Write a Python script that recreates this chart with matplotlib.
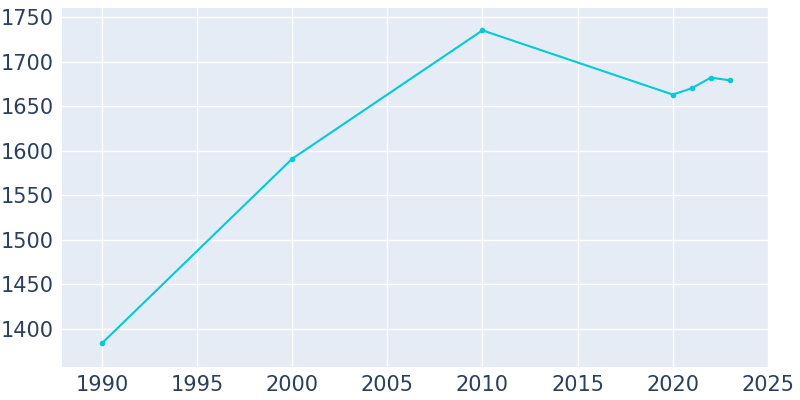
import matplotlib
matplotlib.use("Agg")
import matplotlib.pyplot as plt

years = [1990, 2000, 2010, 2020, 2021, 2022, 2023]
population = [1384, 1591, 1735, 1663, 1670, 1682, 1679]

fig = plt.figure(figsize=(8, 4), dpi=100)
ax = fig.add_axes([0.0775, 0.0825, 0.8835, 0.8975])
ax.set_facecolor("#e5ecf6")
ax.plot(years, population, color="#00ccd6", linewidth=1.5, marker="o", markersize=3)

ax.set_xlim(1987.9, 2025.05)
ax.set_ylim(1357.4, 1760.1)
ax.set_xticks(range(1990, 2030, 5))
ax.set_yticks(range(1400, 1800, 50))
ax.grid(color="white", linewidth=1)
ax.set_axisbelow(True)
for s in ax.spines.values():
    s.set_visible(False)
ax.tick_params(length=0, labelsize=15, labelcolor="#2a3f5f", pad=6)

fig.savefig("out.png")
